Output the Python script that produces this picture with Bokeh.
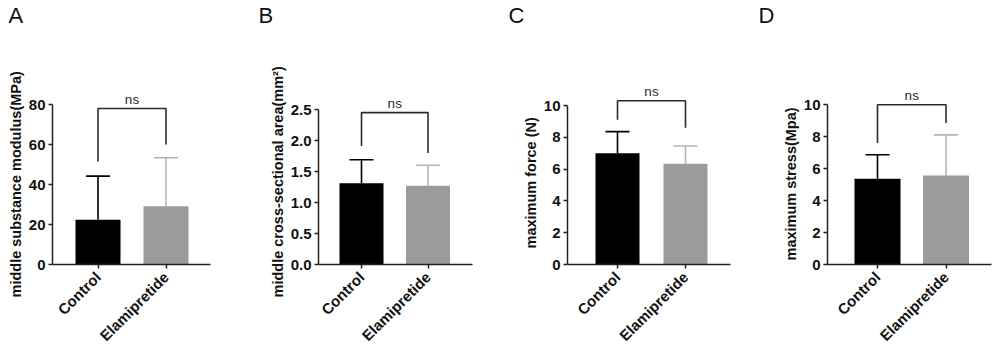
import math
from bokeh.plotting import figure
from bokeh.layouts import row
from bokeh.models import (Range1d, FixedTicker, PrintfTickFormatter, Label,
                          ColumnDataSource, Title)
from bokeh.embed import file_html
from bokeh.resources import INLINE

# ---------------- data ----------------
categories = ["Control", "Elamipretide"]

panel_letters = ["A", "B", "C", "D"]
y_titles = ["middle substance modulus(MPa)",
            "middle cross-sectional area(mm\u00b2)",
            "maximum force (N)",
            "maximum stress(Mpa)"]

A_mean = [22.4, 29.1]
A_sd = [21.8, 24.3]
B_mean = [1.31, 1.27]
B_sd = [0.38, 0.33]
C_mean = [7.00, 6.33]
C_sd = [1.36, 1.12]
D_mean = [5.36, 5.56]
D_sd = [1.50, 2.54]

A_ticks = [0, 20, 40, 60, 80]
B_ticks = [0.0, 0.5, 1.0, 1.5, 2.0, 2.5]
C_ticks = [0, 2, 4, 6, 8, 10]
D_ticks = [0, 2, 4, 6, 8, 10]

# significance brackets: [left leg end, top, right leg end]
A_bracket = [51.5, 78.0, 60.0]
B_bracket = [1.91, 2.45, 1.80]
C_bracket = [9.1, 10.3, 8.6]
D_bracket = [7.6, 9.98, 8.85]
sig_label = "ns"

# ---------------- styling / layout ----------------
FONT = "Liberation Sans"
bar_colors = ["#000000", "#9b9b9c"]
err_colors = ["#000000", "#b4b4b4"]

W, H = 250, 353
FRAME_TOP = 80
FRAME_BOTTOM = 264
layout_cfg = [
    dict(L=52, R=210, c0=97.5, c1=165.5, bw=45, ypx=160 / 80, fmt="%d", tb=297, ts=3),
    dict(L=68, R=222, c0=111, c1=177.5, bw=44, ypx=155 / 2.5, fmt="%.1f", tb=297, ts=3),
    dict(L=67, R=230, c0=117, c1=185, bw=44, ypx=159 / 10, fmt="%d", tb=248, ts=3),
    dict(L=77, R=241, c0=127, c1=195.5, bw=46, ypx=160 / 10, fmt="%d", tb=260, ts=3),
]

means = [A_mean, B_mean, C_mean, D_mean]
sds = [A_sd, B_sd, C_sd, D_sd]
ticks = [A_ticks, B_ticks, C_ticks, D_ticks]
brackets = [A_bracket, B_bracket, C_bracket, D_bracket]

figs = []
for i in range(4):
    cfg = layout_cfg[i]
    d = cfg["c1"] - cfg["c0"]
    xs = list(range(len(categories)))
    x_start = -(cfg["c0"] - cfg["L"]) / d
    x_end = 1 + (cfg["R"] - cfg["c1"]) / d
    frame_h = FRAME_BOTTOM - FRAME_TOP
    y_end = frame_h / cfg["ypx"]

    p = figure(width=W, height=H, output_backend="svg", toolbar_location=None,
               x_range=Range1d(x_start, x_end), y_range=Range1d(0, y_end),
               min_border_left=cfg["L"], min_border_right=W - cfg["R"],
               min_border_top=FRAME_TOP, min_border_bottom=H - FRAME_BOTTOM)
    p.outline_line_color = None
    p.grid.visible = False
    p.background_fill_color = "white"
    p.border_fill_color = "white"

    bw = cfg["bw"] / d
    cap = 24 / d
    m = means[i]
    s = sds[i]
    src = ColumnDataSource(dict(
        x=xs, mean=m, upper=[a + b for a, b in zip(m, s)],
        x0=[x - cap / 2 for x in xs], x1=[x + cap / 2 for x in xs],
        fill=bar_colors, err=err_colors))

    p.segment(x0="x", y0="mean", x1="x", y1="upper", source=src,
              line_color="err", line_width=1.6)
    p.segment(x0="x0", y0="upper", x1="x1", y1="upper", source=src,
              line_color="err", line_width=1.6)
    p.vbar(x="x", top="mean", width=bw, bottom=0, source=src,
           fill_color="fill", line_color=None)

    b = brackets[i]
    p.line([xs[0], xs[0], xs[1], xs[1]], [b[0], b[1], b[1], b[2]],
           line_color="#2a2a2a", line_width=1.6)
    p.add_layout(Label(x=(xs[0] + xs[1]) / 2, y=b[1], text=sig_label,
                       text_align="center", text_baseline="bottom", y_offset=2,
                       text_font=FONT, text_font_size="13.5px",
                       text_color="#2a2a2a"))

    # panel letter: spacer title next to frame, then letter title outermost
    p.add_layout(Title(text=" ", text_font_size="1px", standoff=48), "above")
    p.add_layout(Title(text=panel_letters[i], align="left", offset=8 - cfg["L"],
                       vertical_align="top", standoff=0,
                       text_font=FONT, text_font_size="22px",
                       text_font_style="normal", text_color="#111111"), "above")

    # y-axis title, bottom-anchored
    p.add_layout(Title(text=y_titles[i], align="left", offset=FRAME_BOTTOM - cfg["tb"],
                       standoff=cfg["ts"],
                       text_font=FONT, text_font_size="14.5px",
                       text_font_style="bold", text_color="#111111"), "left")

    # axes
    yax = p.yaxis[0]
    yax.ticker = FixedTicker(ticks=ticks[i])
    yax.formatter = PrintfTickFormatter(format=cfg["fmt"])
    yax.bounds = (ticks[i][0], ticks[i][-1])
    yax.minor_tick_line_color = None
    yax.major_tick_in = 0
    yax.major_tick_out = 4
    yax.axis_line_width = 1.5
    yax.major_tick_line_width = 1.5
    yax.axis_line_color = "#222222"
    yax.major_tick_line_color = "#222222"
    yax.major_label_text_font = FONT
    yax.major_label_text_font_style = "bold"
    yax.major_label_text_font_size = "15px"
    yax.major_label_text_color = "#111111"
    yax.major_label_standoff = 3

    xax = p.xaxis[0]
    xax.ticker = FixedTicker(ticks=xs)
    xax.major_label_overrides = {x: c for x, c in zip(xs, categories)}
    xax.minor_tick_line_color = None
    xax.major_tick_in = 0
    xax.major_tick_out = 4
    xax.axis_line_width = 1.5
    xax.major_tick_line_width = 1.5
    xax.axis_line_color = "#222222"
    xax.major_tick_line_color = "#222222"
    xax.major_label_orientation = math.pi / 4
    xax.major_label_text_font = FONT
    xax.major_label_text_font_style = "bold"
    xax.major_label_text_font_size = "15px"
    xax.major_label_text_color = "#111111"
    xax.major_label_standoff = 6

    figs.append(p)

layout = row(*figs, spacing=0)
open("out.html", "w").write(file_html(layout, INLINE))
